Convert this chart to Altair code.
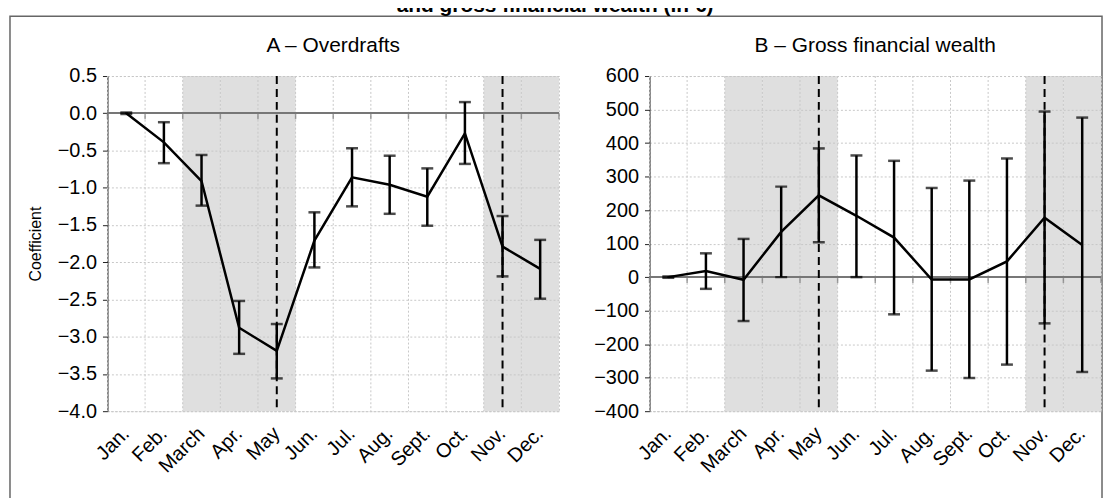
import altair as alt
import pandas as pd

months = ["Jan.", "Feb.", "March", "Apr.", "May", "Jun.", "Jul.", "Aug.", "Sept.", "Oct.", "Nov.", "Dec."]

# Panel A - Overdrafts (coefficient, 95% CI)
od_coef = [0.0, -0.39, -0.91, -2.88, -3.19, -1.71, -0.86, -0.96, -1.12, -0.27, -1.79, -2.09]
od_lo = [-0.01, -0.67, -1.24, -3.23, -3.56, -2.07, -1.25, -1.35, -1.51, -0.68, -2.19, -2.49]
od_hi = [0.01, -0.12, -0.56, -2.52, -2.83, -1.33, -0.47, -0.57, -0.74, 0.15, -1.38, -1.70]

# Panel B - Gross financial wealth
gw_coef = [0, 18, -8, 135, 244, 183, 118, -7, -7, 47, 177, 96]
gw_lo = [-2, -35, -131, 0, 104, 0, -111, -279, -301, -261, -138, -283]
gw_hi = [2, 71, 114, 270, 384, 363, 347, 266, 288, 354, 494, 476]

shaded_months = ["March", "Apr.", "May", "Nov.", "Dec."]
dashed_months = ["May", "Nov."]

panel_titles = ["A \u2013 Overdrafts", "B \u2013 Gross financial wealth"]
main_title = "and gross financial wealth (in \u20ac)"
y_title = "Coefficient"

FONT = "Liberation Sans"
NARROW = "Liberation Sans Narrow, Liberation Sans"
W, H = 454, 337


def panel(coef, lo, hi, ymin, ymax, step, fmt, title, ytitle, decorate=False):
    df = pd.DataFrame({"month": months, "coef": coef, "lo": lo, "hi": hi})
    xscale = alt.Scale(domain=months, paddingInner=0, paddingOuter=0)
    yscale = alt.Scale(domain=[ymin, ymax], nice=False, zero=False)
    xaxis = alt.Axis(title=None, labelAngle=-45, labelAlign="right", labelBaseline="middle",
                     labelPadding=19, ticks=False, domain=False, grid=False, labelOverlap=False)
    ticks_vals = []
    v = ymin
    while v <= ymax + 1e-9:
        ticks_vals.append(round(v, 6))
        v += step
    if ytitle:
        yaxis = alt.Axis(title=ytitle, values=ticks_vals, format=fmt, labelOverlap=False)
    else:
        yaxis = alt.Axis(title=None, values=ticks_vals, format=fmt, labelOverlap=False)

    X = lambda **kw: alt.X("month:N", sort=months, scale=xscale, axis=xaxis, **kw)
    Y = lambda f: alt.Y(f, scale=yscale, axis=yaxis)

    shade_df = pd.DataFrame({"month": shaded_months})
    shade = alt.Chart(shade_df).mark_rect(fill="#c4c4c4", opacity=0.55).encode(
        x=X(), y=Y("top:Q"), y2="bottom:Q",
    ).transform_calculate(top=str(ymax), bottom=str(ymin))

    vgrid = alt.Chart(df).mark_rule(color="#c8c8c8", strokeDash=[2, 2], strokeWidth=1).encode(
        x=X(bandPosition=0)
    )
    zero = alt.Chart(df).mark_rule(color="#777777", strokeWidth=1.5).encode(
        y=alt.datum(0, scale=yscale, axis=yaxis)
    )
    zticks = alt.Chart(df).mark_tick(orient="vertical", size=6, thickness=1.5, color="#777777", yOffset=3).encode(
        x=X(bandPosition=0), y=alt.datum(0, scale=yscale, axis=yaxis)
    )
    zticks_end = alt.Chart(df[df.month == months[-1]]).mark_tick(
        orient="vertical", size=6, thickness=1.5, color="#777777", yOffset=3
    ).encode(x=X(bandPosition=1), y=alt.datum(0, scale=yscale, axis=yaxis))

    dash_df = pd.DataFrame({"month": dashed_months})
    dashed = alt.Chart(dash_df).mark_rule(color="black", strokeWidth=2, strokeDash=[8, 5]).encode(
        x=X()
    )
    bars = alt.Chart(df).mark_rule(color="black", strokeWidth=2.5).encode(
        x=X(), y=Y("lo:Q"), y2="hi:Q"
    )
    cap_lo = alt.Chart(df).mark_tick(color="black", size=12, thickness=2.5).encode(
        x=X(), y=Y("lo:Q")
    )
    cap_hi = alt.Chart(df).mark_tick(color="black", size=12, thickness=2.5).encode(
        x=X(), y=Y("hi:Q")
    )
    line = alt.Chart(df).mark_line(color="black", strokeWidth=2.5).encode(
        x=X(), y=Y("coef:Q")
    )
    one = pd.DataFrame({"k": [0]})
    ptitle = alt.Chart(one).mark_text(text=title, font=FONT, fontSize=21, align="center",
                                      baseline="alphabetic", color="black").encode(
        x=alt.value(W / 2), y=alt.value(-24)
    )
    layers = [shade, vgrid, zero, zticks, zticks_end, dashed, bars, cap_lo, cap_hi, line, ptitle]
    if decorate:
        border = alt.Chart(one).mark_rect(fill="white", fillOpacity=0, stroke="#666666", strokeWidth=1.5).encode(
            x=alt.value(-98), x2=alt.value(1000), y=alt.value(-60), y2=alt.value(440)
        )
        top = alt.Chart(one).mark_text(text=main_title, font=FONT, fontSize=21, fontWeight="bold",
                                       align="center", baseline="top", color="black").encode(
            x=alt.value(450), y=alt.value(-81)
        )
        layers = [border] + layers + [top]
    return alt.layer(*layers).properties(width=W, height=H)


pa = panel(od_coef, od_lo, od_hi, -4.0, 0.5, 0.5, ".1f", panel_titles[0], y_title, decorate=True)
pb = panel(gw_coef, gw_lo, gw_hi, -400, 600, 100, "d", panel_titles[1], None)

chart = alt.hconcat(pa, pb, spacing=91, bounds="flush").properties(
    padding={"top": -15, "left": 0, "right": 0, "bottom": 0}
).configure_view(
    stroke="#c8c8c8", strokeDash=[2, 2], strokeWidth=1
).configure_axis(
    labelFont=NARROW, labelFontSize=20, labelColor="black", labelOverlap=False,
    titleFont=NARROW, titleFontSize=16, titleFontWeight="normal", titleColor="black",
).configure_axisY(
    grid=True, gridColor="#c8c8c8", gridDash=[2, 2], gridWidth=1,
    domainColor="#222222", domainWidth=1, tickColor="#222222", tickSize=5,
    labelPadding=6, titlePadding=14,
)

chart.save("out.html", embed_options={"renderer": "svg", "actions": False})
